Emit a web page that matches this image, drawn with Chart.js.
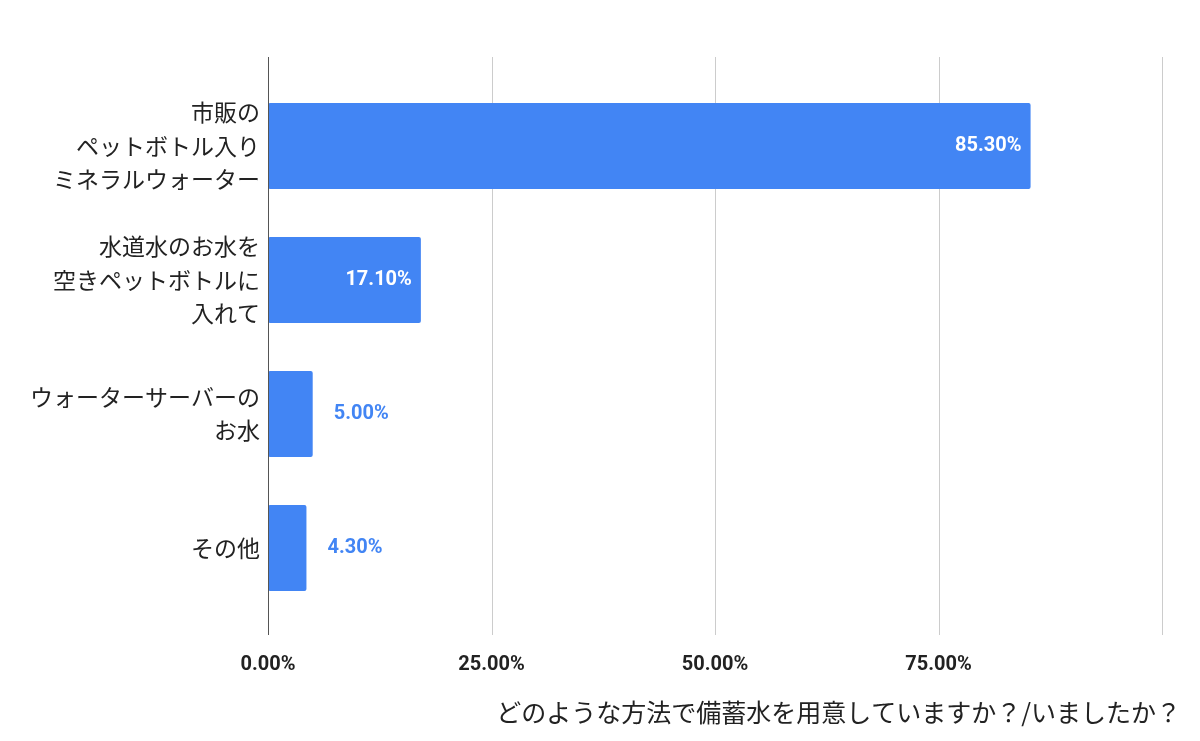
<!DOCTYPE html>
<html>
<head>
<meta charset="utf-8">
<script src="https://cdn.jsdelivr.net/npm/chart.js@4"></script>
<style>
  html, body { margin: 0; padding: 0; background: #fff; }
  #wrap { width: 1200px; height: 741px; }
</style>
</head>
<body>
<div id="wrap"><canvas id="water-chart"></canvas></div>
<script>
// Chart data
const categories = [
  ['市販の', 'ペットボトル入り', 'ミネラルウォーター'],
  ['水道水のお水を', '空きペットボトルに', '入れて'],
  ['ウォーターサーバーの', 'お水'],
  ['その他'],
];
const shares = [85.3, 17.1, 5.0, 4.3];
const tickValues = [0, 25, 50, 75, 100];
const axisTitle = 'どのような方法で備蓄水を用意していますか？/いましたか？';

const colors = {
  bar: '#4285f4',
  grid: '#cccccc',
  baseline: '#555555',
  text: '#222222',
};

const jpFont = '"Noto Sans CJK JP", "Noto Sans", sans-serif';
const numFont = 'Roboto, "Liberation Sans", sans-serif';

// grid lines stick out a little above and below the bars
const gridPlugin = {
  id: 'extendGrid',
  beforeDatasetsDraw(chart) {
    const { ctx, chartArea, scales } = chart;
    ctx.save();
    ctx.lineWidth = 1;
    tickValues.forEach(v => {
      if (v === 0) return;
      const x = Math.round(scales.x.getPixelForValue(v)) + 0.5;
      ctx.strokeStyle = colors.grid;
      ctx.beginPath();
      ctx.moveTo(x, chartArea.top - 22);
      ctx.lineTo(x, chartArea.bottom + 20);
      ctx.stroke();
    });
    ctx.restore();
  },
  afterDatasetsDraw(chart) {
    const { ctx, chartArea, scales } = chart;
    const x = Math.round(scales.x.getPixelForValue(0)) + 0.5;
    ctx.save();
    ctx.strokeStyle = colors.baseline;
    ctx.lineWidth = 1;
    ctx.beginPath();
    ctx.moveTo(x, chartArea.top - 22);
    ctx.lineTo(x, chartArea.bottom + 20);
    ctx.stroke();
    ctx.restore();
  }
};

// value labels: inside the bar when it fits, otherwise just after it
const valueLabels = {
  id: 'valueLabels',
  afterDatasetsDraw(chart) {
    const { ctx } = chart;
    const meta = chart.getDatasetMeta(0);
    ctx.save();
    ctx.font = 'bold 20px ' + numFont;
    ctx.textBaseline = 'middle';
    meta.data.forEach((bar, i) => {
      const text = shares[i].toFixed(2) + '%';
      const w = ctx.measureText(text).width;
      const barW = bar.x - bar.base;
      if (barW > w + 20) {
        ctx.fillStyle = '#ffffff';
        ctx.textAlign = 'right';
        ctx.fillText(text, bar.x - 9, bar.y);
      } else {
        ctx.fillStyle = colors.bar;
        ctx.textAlign = 'left';
        ctx.fillText(text, bar.x + 21, bar.y);
      }
    });
    ctx.restore();
  }
};

// axis title sits right-aligned, a bit past the plot's right edge
const titlePlugin = {
  id: 'axisTitle',
  afterDraw(chart) {
    const { ctx, chartArea } = chart;
    ctx.save();
    ctx.font = '25px ' + jpFont;
    ctx.fillStyle = colors.text;
    ctx.textAlign = 'right';
    ctx.textBaseline = 'middle';
    ctx.fillText(axisTitle, chartArea.right + 19, 712);
    ctx.restore();
  }
};

new Chart(document.getElementById('water-chart'), {
  type: 'bar',
  data: {
    labels: categories,
    datasets: [{
      data: shares,
      backgroundColor: colors.bar,
      borderRadius: 2,
      borderSkipped: false,
      barPercentage: 0.64,
      categoryPercentage: 1,
    }]
  },
  options: {
    indexAxis: 'y',
    responsive: true,
    maintainAspectRatio: false,
    animation: false,
    layout: {
      padding: { top: 79, right: 38, bottom: 0, left: 0 }
    },
    plugins: {
      legend: { display: false },
      tooltip: { enabled: false },
    },
    scales: {
      x: {
        min: 0,
        max: 100,
        afterBuildTicks(scale) {
          scale.ticks = tickValues.map(v => ({ value: v }));
        },
        afterFit(scale) {
          scale.height = 741 - 615;
        },
        grid: { display: false },
        border: { display: false },
        ticks: {
          padding: 30,
          color: colors.text,
          font: { family: numFont, size: 20, weight: 'bold' },
          callback: v => (v >= 100 ? '' : v.toFixed(2) + '%'),
        },
      },
      y: {
        afterFit(scale) {
          scale.width = 268;
        },
        grid: { display: false },
        border: { display: false },
        ticks: {
          padding: 0,
          color: colors.text,
          font: { family: jpFont, size: 23, lineHeight: 1.45 },
        }
      }
    }
  },
  plugins: [gridPlugin, valueLabels, titlePlugin]
});
</script>
</body>
</html>
